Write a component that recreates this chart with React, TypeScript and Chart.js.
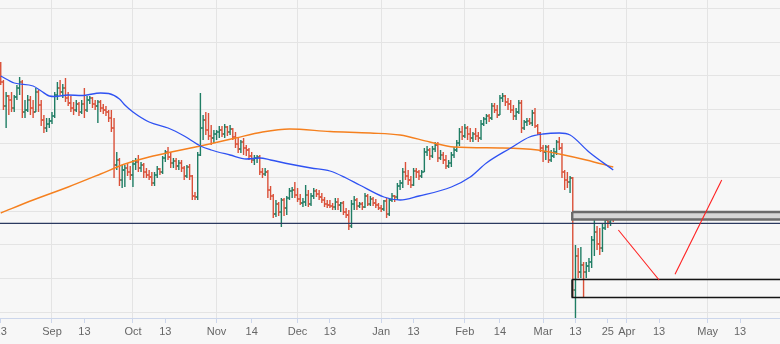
import { useEffect, useRef } from "react";
import { Chart, registerables } from "chart.js";

Chart.register(...registerables);

// Daily bars, one per calendar day, day 0 = 2023-08-13
const firstOpen = 334;
const highs = [
  338, 320, 308, 305, 308, 305, 315, 323, 320, 300,
  305, 304, 300, 312, 310, 300, 285, 282, 282, 288,
  308, 318, 320, 316, 322, 308, 304, 298, 300, 298,
  300, 312, 304, 304, 303, 300, 300, 300, 296, 294,
  290, 290, 282, 248, 242, 235, 235, 237, 234, 240,
  242, 245, 238, 237, 232, 230, 228, 228, 234, 232,
  244, 250, 253, 248, 242, 242, 240, 240, 234, 235,
  236, 225, 208, 248, 307, 285, 288, 287, 275, 270,
  270, 274, 274, 276, 274, 275, 272, 268, 262, 260,
  262, 255, 252, 248, 245, 245, 245, 232, 232, 230,
  214, 206, 200, 198, 202, 202, 204, 212, 213, 218,
  212, 206, 202, 215, 210, 207, 212, 211, 210, 207,
  203, 200, 200, 197, 202, 202, 198, 199, 192, 190,
  200, 204, 202, 198, 198, 207, 206, 204, 203, 201,
  197, 195, 200, 202, 202, 207, 205, 217, 220, 232,
  238, 230, 224, 232, 232, 230, 230, 252, 254, 252,
  254, 258, 258, 250, 248, 245, 240, 248, 253, 260,
  272, 274, 276, 274, 272, 268, 272, 268, 280, 283,
  286, 286, 297, 297, 295, 305, 307, 305, 302, 300,
  295, 292, 300, 300, 280, 282, 282, 290, 292, 276,
  268, 255, 255, 255, 250, 252, 260, 263, 257, 230,
  228, 224, 223, 155, 152, 153, 138, 138, 142, 164,
  187, 174, 172, 176, 184, 187, 184, 186,
];
const lows = [
  315, 290, 272, 285, 288, 288, 300, 305, 282, 282,
  288, 285, 282, 288, 288, 274, 267, 268, 272, 276,
  282, 300, 305, 302, 298, 294, 288, 285, 288, 284,
  286, 282, 288, 296, 292, 290, 277, 288, 286, 284,
  278, 268, 222, 230, 214, 212, 213, 224, 220, 213,
  230, 228, 228, 222, 222, 220, 214, 214, 222, 225,
  226, 238, 240, 232, 232, 230, 230, 228, 220, 222,
  220, 200, 200, 200, 244, 260, 265, 260, 255, 257,
  260, 262, 263, 262, 264, 265, 260, 252, 247, 247,
  245, 244, 240, 237, 235, 237, 225, 222, 224, 202,
  200, 182, 183, 184, 173, 184, 185, 200, 202, 202,
  198, 195, 193, 194, 193, 194, 201, 203, 200, 197,
  193, 192, 192, 190, 190, 190, 188, 185, 182, 170,
  172, 190, 190, 192, 190, 192, 194, 194, 194, 192,
  190, 188, 189, 182, 184, 198, 198, 200, 210, 212,
  220, 215, 212, 214, 222, 220, 222, 228, 244, 240,
  242, 248, 238, 240, 236, 231, 232, 233, 242, 248,
  254, 260, 262, 260, 258, 258, 260, 258, 260, 274,
  276, 278, 280, 287, 282, 285, 298, 294, 290, 287,
  280, 280, 286, 267, 270, 274, 275, 274, 272, 265,
  248, 238, 240, 237, 238, 242, 245, 250, 222, 210,
  212, 207, 102, 70, 122, 122, 102, 122, 128, 132,
  144, 150, 145, 148, 170, 172, 174, 178,
];
const closes = [
  318, 294, 304, 300, 292, 303, 312, 318, 288, 290,
  300, 292, 288, 308, 295, 280, 272, 276, 279, 284,
  305, 312, 308, 312, 302, 297, 292, 290, 296, 288,
  296, 290, 300, 302, 296, 294, 298, 292, 290, 288,
  282, 272, 235, 240, 220, 230, 232, 228, 225, 236,
  238, 232, 235, 228, 225, 223, 217, 225, 231, 228,
  242, 248, 243, 237, 239, 234, 237, 232, 224, 233,
  224, 204, 203, 245, 272, 280, 270, 264, 262, 266,
  268, 270, 266, 273, 268, 271, 263, 256, 251, 258,
  252, 250, 244, 240, 242, 243, 228, 226, 228, 210,
  204, 186, 196, 188, 200, 192, 202, 209, 210, 205,
  201, 197, 198, 205, 196, 204, 209, 206, 203, 200,
  196, 195, 194, 193, 198, 195, 197, 188, 185, 174,
  196, 200, 194, 196, 193, 204, 196, 201, 197, 195,
  192, 191, 199, 186, 200, 204, 203, 214, 217, 228,
  224, 220, 215, 229, 228, 224, 228, 248, 250, 244,
  251, 255, 242, 245, 240, 234, 237, 245, 250, 257,
  268, 264, 272, 266, 262, 266, 264, 262, 276, 281,
  284, 282, 294, 290, 285, 302, 304, 298, 296, 290,
  284, 288, 297, 272, 278, 279, 277, 287, 274, 267,
  252, 248, 253, 240, 244, 248, 258, 252, 228, 220,
  218, 222, 110, 144, 128, 135, 128, 134, 138, 160,
  168, 156, 152, 172, 180, 178, 182, 181,
];

// Moving averages (day, value)
const maFastDays = [0, 5, 12, 15, 18, 20, 25, 30, 37, 40, 44, 46, 49, 55, 62, 68, 74, 78, 85, 91, 96, 100, 107, 115, 122, 128, 133, 142, 148, 155, 167, 174, 180, 189, 196, 201, 207, 211, 218, 227];
const maFastValues = [324, 317, 314, 309, 304, 303.5, 305, 304.5, 307, 306.5, 301, 295, 288, 278, 272, 264, 254, 250, 245, 241, 242, 240, 236, 232, 229, 222, 215, 203, 200, 204, 213, 223, 237, 252, 263, 266, 267, 265, 248, 230];
const maSlowDays = [0, 12, 25, 37, 46, 55, 65, 74, 79, 87, 97, 107, 122, 137, 148, 159, 168, 186, 199, 207, 217, 227];
const maSlowValues = [187, 200, 213, 226, 236, 243, 249, 254, 257, 262, 268, 271, 268.5, 267, 265, 258, 253, 252, 250, 246, 240, 233];

// Drawn levels
const supportLevel = 176.7;
const zoneStartDay = 211.8;
const zoneEndDay = 300;
const upperZone = [180.5, 188];
const lowerZone = [102.5, 120.5];
const projectionDown = [
  { x: 228.9, y: 170 },
  { x: 244.0, y: 120 },
];
const projectionUp = [
  { x: 249.9, y: 125.7 },
  { x: 267.2, y: 220 },
];

// Axis ticks
const tickDays = [0, 19, 31, 49, 61, 80, 93, 110, 122, 141, 153, 172, 185, 201, 213, 225, 232, 244, 262, 274];
const tickLabels = ["13", "Sep", "13", "Oct", "13", "Nov", "14", "Dec", "13", "Jan", "13", "Feb", "14", "Mar", "13", "25", "Apr", "13", "May", "13"];
const monthDays = [19, 49, 80, 110, 141, 172, 201, 232, 262];
const priceGrid = [391.5, 357.75, 324, 290.25, 256.5, 222.75, 189, 155.25, 121.5, 87.75];

const UP = "#1f7d64";
const DOWN = "#da5038";

export default function App() {
  const ref = useRef<HTMLCanvasElement>(null);

  useEffect(() => {
    const opens = closes.map((c, i) => (i === 0 ? firstOpen : closes[i - 1]));
    const colors = closes.map((c, i) => (c >= opens[i] ? UP : DOWN));
    const wickData = closes.map((c, i) => ({ x: i, y: [lows[i], highs[i]] }));
    const openData = opens.map((o, i) => ({ x: i, y: o }));
    const closeData = closes.map((c, i) => ({ x: i, y: c }));

    const rect = (lo: number, hi: number) => [
      { x: zoneStartDay, y: hi },
      { x: zoneEndDay, y: hi },
      { x: zoneEndDay, y: lo },
      { x: zoneStartDay, y: lo },
      { x: zoneStartDay, y: hi },
    ];

    const lineBase: any = { type: "line", pointRadius: 0, pointHoverRadius: 0, fill: false };

    const chart = new Chart(ref.current as HTMLCanvasElement, {
      type: "line",
      data: {
        datasets: [
          {
            ...lineBase,
            data: maFastDays.map((d, i) => ({ x: d, y: maFastValues[i] })),
            borderColor: "#2f52f2",
            borderWidth: 1.3,
            cubicInterpolationMode: "monotone",
            order: 1,
          },
          {
            ...lineBase,
            data: maSlowDays.map((d, i) => ({ x: d, y: maSlowValues[i] })),
            borderColor: "#f5801f",
            borderWidth: 1.4,
            cubicInterpolationMode: "monotone",
            order: 1,
          },
          { ...lineBase, data: projectionDown, borderColor: "#ff2020", borderWidth: 1.1, order: 1 },
          { ...lineBase, data: projectionUp, borderColor: "#ff2020", borderWidth: 1.1, order: 1 },
          {
            ...lineBase,
            data: [
              { x: -5, y: supportLevel },
              { x: zoneEndDay, y: supportLevel },
            ],
            borderColor: "#2b3a60",
            borderWidth: 1.2,
            order: 2,
          },
          {
            ...lineBase,
            data: rect(upperZone[0], upperZone[1]),
            borderColor: "#6a6a6a",
            borderWidth: 2.4,
            backgroundColor: "#d6d6d6",
            fill: "shape",
            order: 2,
          },
          {
            ...lineBase,
            data: rect(lowerZone[0], lowerZone[1]),
            borderColor: "#151515",
            borderWidth: 1.3,
            order: 2,
          },
          {
            ...lineBase,
            data: [
              { x: zoneStartDay, y: lowerZone[1] },
              { x: zoneStartDay, y: lowerZone[0] },
            ],
            borderColor: "rgba(95,95,95,0.85)",
            borderWidth: 2.4,
            order: 2,
          },
          {
            type: "line",
            data: openData,
            showLine: false,
            pointStyle: "dash",
            pointRotation: 180,
            pointRadius: 1.8,
            pointHoverRadius: 1.8,
            pointBorderWidth: 1.3,
            pointBorderColor: colors,
            pointBackgroundColor: colors,
            order: 3,
          } as any,
          {
            type: "line",
            data: closeData,
            showLine: false,
            pointStyle: "dash",
            pointRotation: 0,
            pointRadius: 1.8,
            pointHoverRadius: 1.8,
            pointBorderWidth: 1.3,
            pointBorderColor: colors,
            pointBackgroundColor: colors,
            order: 3,
          } as any,
          {
            type: "bar",
            data: wickData,
            backgroundColor: colors,
            barThickness: 1.4,
            inflateAmount: 0,
            borderWidth: 0,
            grouped: false,
            order: 4,
          } as any,
        ],
      },
      options: {
        animation: false,
        responsive: false,
        devicePixelRatio: 1,
        events: [],
        layout: { padding: 0, autoPadding: false },
        plugins: { legend: { display: false }, tooltip: { enabled: false } },
        scales: {
          x: {
            type: "linear",
            min: -0.27,
            max: 288.8,
            offset: false,
            afterBuildTicks: (s: any) => {
              s.ticks = tickDays.map((v) => ({ value: v }));
            },
            afterFit: (s: any) => {
              s.height = 26;
              s.paddingLeft = 0;
              s.paddingRight = 0;
            },
            ticks: {
              autoSkip: false,
              maxRotation: 0,
              minRotation: 0,
              padding: 2,
              color: "#666666",
              font: { family: "'Liberation Sans', Arial, sans-serif", size: 11 },
              callback: (_v: any, i: number) => tickLabels[i],
            },
            grid: {
              offset: false,
              color: (ctx: any) => (ctx.tick && monthDays.includes(ctx.tick.value) ? "#e4e4e4" : "rgba(0,0,0,0)"),
              tickColor: "#ccd6eb",
              tickLength: 5,
              lineWidth: 1,
            },
            border: { display: true, color: "#ccd6eb", width: 1 },
          },
          y: {
            type: "linear",
            min: 82,
            max: 400,
            afterBuildTicks: (s: any) => {
              s.ticks = priceGrid.map((v) => ({ value: v }));
            },
            afterFit: (s: any) => {
              s.width = 0;
              s.paddingTop = 0;
              s.paddingBottom = 0;
            },
            ticks: { display: false },
            grid: { color: "#e4e4e4", drawTicks: false, lineWidth: 1 },
            border: { display: false },
          },
        },
      } as any,
    } as any);

    return () => chart.destroy();
  }, []);

  return (
    <div
      style={{
        position: "absolute",
        left: 0,
        top: 0,
        width: 780,
        height: 344,
        background: "#f7f7f7",
        overflow: "hidden",
      }}
    >
      <canvas ref={ref} width={780} height={344} style={{ display: "block" }} />
    </div>
  );
}
